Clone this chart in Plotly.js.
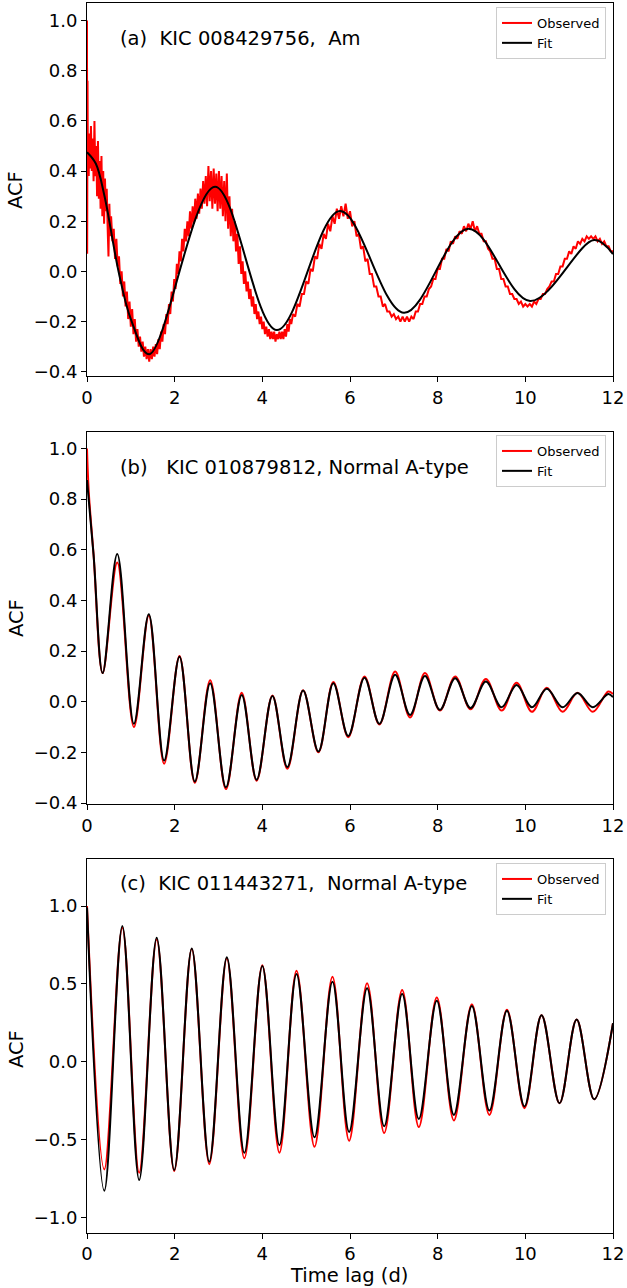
<!DOCTYPE html>
<html>
<head>
<meta charset="utf-8">
<script src="https://cdn.plot.ly/plotly-3.0.1.min.js"></script>
<style>html,body{margin:0;padding:0;background:#fff;}#chart{width:627px;height:1288px;}</style>
</head>
<body>
<div id="chart"></div>
<script>
// ---------- Data ----------
const xTicks = [0, 2, 4, 6, 8, 10, 12];
const panelLabels = [
  "(a)\u00A0\u00A0KIC 008429756,\u00A0\u00A0Am",
  "(b)\u00A0\u00A0\u00A0KIC 010879812, Normal A-type",
  "(c)\u00A0\u00A0KIC 011443271,\u00A0\u00A0Normal A-type"
];
const seriesNames = ["Observed", "Fit"];

// Panel (a): observed (noisy) ACF
const obsA_x = [0,0.004,0.012,0.02,0.03,0.04,0.05,0.07,0.09,0.11,0.13,0.15,0.17,0.19,0.21,0.23,0.25,0.27,0.29,0.31,0.33,0.35,0.37,0.39,0.41,0.43,0.45,0.47,0.49,0.51,0.53,0.55,0.58,0.61,0.64,0.67,0.70,0.73,0.76,0.79,0.82,0.85,0.88,0.91,0.94,0.97,1.00,1.03,1.06,1.09,1.12,1.15,1.18,1.21,1.24,1.27,1.30,1.33,1.36,1.39,1.42,1.45,1.48,1.51,1.54,
1.57,1.60,1.63,1.66,1.69,1.72,1.75,1.78,1.81,1.84,1.87,1.90,1.93,1.96,1.99,2.02,2.05,2.08,2.11,2.14,2.17,2.20,2.23,2.26,2.29,2.32,2.35,2.38,2.41,2.44,2.47,2.50,2.53,2.56,2.59,2.62,2.65,2.68,2.71,2.74,2.77,2.80,2.83,2.86,2.89,2.92,2.95,2.98,3.01,3.04,3.07,3.10,3.13,3.16,3.19,3.22,3.25,3.28,3.31,3.34,3.37,3.40,3.43,3.46,3.49,3.52,3.55,3.58,
3.61,3.64,3.67,3.70,3.73,3.76,3.79,3.82,3.85,3.88,3.91,3.94,3.97,4.00,4.03,4.06,4.09,4.12,4.15,4.18,4.21,4.24,4.27,4.30,4.33,4.36,4.39,4.42,4.45,4.48,4.51,4.54,4.57,4.60,4.63,4.66,
4.70,4.75,4.80,4.85,4.90,4.95,5.00,5.05,5.10,5.15,5.20,5.25,5.30,5.35,5.40,5.45,5.50,5.55,5.60,5.65,5.70,5.75,5.80,5.85,5.90,5.95,6.00,6.05,6.10,6.15,6.20,6.25,6.30,6.35,6.40,6.45,6.50,6.55,6.60,6.65,6.70,6.75,6.80,6.85,6.90,6.95,7.00,7.05,7.10,7.15,7.20,7.25,7.30,7.35,7.40,7.45,7.50,7.55,
7.60,7.65,7.70,7.75,7.80,7.85,7.90,7.95,8.00,8.05,8.10,8.15,8.20,8.25,8.30,8.35,8.40,8.45,8.50,8.55,8.60,8.65,8.70,8.75,8.80,8.85,8.90,8.95,9.00,9.05,9.10,9.15,9.20,9.25,9.30,9.35,9.40,9.45,9.50,9.55,9.60,9.65,9.70,9.75,9.80,9.85,9.90,9.95,10.00,10.05,10.10,10.15,10.20,10.25,10.30,10.35,10.40,10.45,10.50,10.55,10.60,10.65,10.70,10.75,10.80,10.85,10.90,10.95,11.00,11.05,11.10,11.15,11.20,11.25,11.30,11.35,11.40,11.45,11.50,11.55,11.60,11.65,11.70,11.75,11.80,11.85,11.90,11.95,12.00];
const obsA_y = [1.00,0.07,0.76,0.40,0.52,0.38,0.55,0.41,0.58,0.40,0.53,0.36,0.60,0.38,0.50,0.30,0.52,0.29,0.44,0.25,0.46,0.22,0.40,0.19,0.37,0.24,0.33,0.18,0.06,0.27,0.14,0.22,0.12,0.17,0.05,0.13,0.02,0.06,-0.05,0.00,-0.10,-0.04,-0.14,-0.08,-0.19,-0.12,-0.22,-0.15,-0.25,-0.19,-0.28,-0.23,-0.30,-0.26,-0.32,-0.28,-0.34,-0.30,-0.35,-0.31,-0.36,-0.31,-0.35,-0.30,-0.34,
-0.29,-0.33,-0.27,-0.31,-0.24,-0.28,-0.21,-0.25,-0.17,-0.21,-0.13,-0.17,-0.08,-0.12,-0.03,-0.07,0.03,-0.01,0.08,0.04,0.13,0.08,0.17,0.12,0.20,0.14,0.24,0.17,0.26,0.19,0.29,0.21,0.31,0.23,0.33,0.25,0.36,0.27,0.38,0.26,0.42,0.28,0.40,0.25,0.41,0.27,0.39,0.24,0.40,0.25,0.38,0.22,0.36,0.20,0.39,0.17,0.30,0.14,0.25,0.12,0.20,0.08,0.15,0.03,0.10,-0.01,0.04,-0.05,
0.00,-0.08,-0.04,-0.11,-0.07,-0.14,-0.10,-0.17,-0.13,-0.19,-0.16,-0.21,-0.18,-0.23,-0.20,-0.25,-0.22,-0.26,-0.23,-0.27,-0.24,-0.27,-0.24,-0.28,-0.25,-0.27,-0.24,-0.27,-0.24,-0.27,-0.23,-0.26,-0.21,-0.24,-0.19,-0.21,
-0.17,-0.18,-0.13,-0.14,-0.09,-0.09,-0.04,-0.05,0.01,0.00,0.06,0.05,0.11,0.09,0.15,0.13,0.19,0.16,0.22,0.19,0.25,0.21,0.26,0.22,0.27,0.21,0.24,0.18,0.20,0.14,0.15,0.09,0.10,0.04,0.05,-0.01,-0.01,-0.06,-0.06,-0.10,-0.10,-0.14,-0.13,-0.16,-0.16,-0.18,-0.17,-0.19,-0.18,-0.20,-0.18,-0.20,-0.18,-0.20,-0.18,-0.19,-0.16,-0.16,
-0.13,-0.13,-0.10,-0.10,-0.07,-0.06,-0.03,-0.03,0.01,0.01,0.05,0.05,0.09,0.08,0.12,0.11,0.14,0.13,0.16,0.15,0.18,0.16,0.19,0.17,0.20,0.16,0.18,0.15,0.15,0.12,0.12,0.09,0.08,0.05,0.05,0.01,0.01,-0.03,-0.03,-0.06,-0.06,-0.09,-0.09,-0.11,-0.11,-0.13,-0.12,-0.14,-0.13,-0.14,-0.13,-0.14,-0.12,-0.13,-0.11,-0.11,-0.09,-0.09,-0.07,-0.06,-0.04,-0.04,-0.01,-0.01,0.02,0.02,0.05,0.05,0.08,0.07,0.10,0.09,0.12,0.11,0.13,0.12,0.14,0.13,0.14,0.13,0.14,0.12,0.13,0.11,0.12,0.10,0.10,0.08,0.08];
// Panel (a): fit
const fitA_x = [0, 0.2, 0.4, 0.72, 1.0, 1.42, 2.92, 4.33, 5.77, 7.23, 8.70, 10.11, 11.57, 12.0];
const fitA_y = [0.475, 0.43, 0.30, 0.0, -0.19, -0.33, 0.338, -0.234, 0.241, -0.165, 0.170, -0.118, 0.125, 0.069];

// Panel (b)
const obsB_x = [0, 0.04, 0.15, 0.357, 0.69, 1.07, 1.41, 1.76, 2.11, 2.46, 2.81, 3.17, 3.53, 3.87, 4.23, 4.57, 4.93, 5.28, 5.62, 5.96, 6.33, 6.67, 7.03, 7.37, 7.71, 8.05, 8.40, 8.75, 9.10, 9.46, 9.80, 10.15, 10.49, 10.85, 11.19, 11.54, 11.89, 12.0];
const obsB_y = [1.0, 0.83, 0.58, 0.113, 0.55, -0.10, 0.34, -0.245, 0.18, -0.32, 0.085, -0.345, 0.035, -0.312, 0.025, -0.265, 0.045, -0.20, 0.078, -0.14, 0.10, -0.09, 0.119, -0.062, 0.113, -0.035, 0.10, -0.03, 0.09, -0.035, 0.075, -0.04, 0.055, -0.04, 0.035, -0.04, 0.04, 0.03];
const fitB_x = [0, 0.15, 0.357, 0.69, 1.07, 1.41, 1.76, 2.11, 2.46, 2.81, 3.17, 3.53, 3.87, 4.23, 4.57, 4.93, 5.28, 5.62, 5.96, 6.33, 6.67, 7.03, 7.37, 7.71, 8.05, 8.40, 8.75, 9.10, 9.46, 9.80, 10.15, 10.49, 10.85, 11.19, 11.54, 11.89, 12.0];
const fitB_y = [0.875, 0.58, 0.113, 0.583, -0.087, 0.345, -0.232, 0.178, -0.315, 0.073, -0.338, 0.027, -0.308, 0.023, -0.258, 0.044, -0.197, 0.073, -0.135, 0.095, -0.087, 0.106, -0.052, 0.102, -0.032, 0.093, -0.025, 0.080, -0.022, 0.066, -0.022, 0.051, -0.022, 0.034, -0.022, 0.03, 0.018];

// Panel (c)
const lagC = [0, 0.395, 0.806, 1.19, 1.59, 1.99, 2.39, 2.79, 3.19, 3.59, 4.0, 4.39, 4.78, 5.19, 5.60, 5.98, 6.39, 6.78, 7.19, 7.57, 7.98, 8.37, 8.78, 9.18, 9.58, 9.98, 10.37, 10.78, 11.17, 11.57, 12.0];
const obsC_y = [1.0, -0.69, 0.86, -0.711, 0.785, -0.70, 0.725, -0.656, 0.665, -0.619, 0.62, -0.583, 0.585, -0.545, 0.546, -0.506, 0.504, -0.456, 0.461, -0.418, 0.414, -0.376, 0.37, -0.340, 0.335, -0.297, 0.30, -0.265, 0.272, -0.24, 0.248];
const fitC_y = [0.99, -0.827, 0.872, -0.758, 0.797, -0.694, 0.728, -0.641, 0.671, -0.583, 0.615, -0.534, 0.564, -0.484, 0.514, -0.449, 0.472, -0.413, 0.435, -0.366, 0.393, -0.340, 0.358, -0.312, 0.328, -0.286, 0.300, -0.265, 0.272, -0.240, 0.248];

// ---------- Figure ----------
const FONT = "DejaVu Sans, sans-serif";
const RED = "#ff0000", BLACK = "#000000";
const H = 1288;
function py(px) { return 1 - px / H; }

function obsTrace(x, y, xa, ya, leg, spline) {
  return {x: x, y: y, xaxis: xa, yaxis: ya, type: "scatter", mode: "lines", name: seriesNames[0],
    legend: leg, line: {color: RED, width: 2, shape: spline ? "spline" : "linear", smoothing: 1}, hoverinfo: "skip"};
}
function fitTrace(x, y, xa, ya, leg) {
  return {x: x, y: y, xaxis: xa, yaxis: ya, type: "scatter", mode: "lines", name: seriesNames[1],
    legend: leg, line: {color: BLACK, width: 2, shape: "spline", smoothing: 1}, hoverinfo: "skip"};
}

const data = [
  obsTrace(obsA_x, obsA_y, "x", "y", "legend", false),
  fitTrace(fitA_x, fitA_y, "x", "y", "legend"),
  obsTrace(obsB_x, obsB_y, "x2", "y2", "legend2", true),
  fitTrace(fitB_x, fitB_y, "x2", "y2", "legend2"),
  obsTrace(lagC, obsC_y, "x3", "y3", "legend3", true),
  fitTrace(lagC, fitC_y, "x3", "y3", "legend3")
];

function xAxis(anchor) {
  return {anchor: anchor, domain: [0, 1], range: [0, 12], tickvals: xTicks, ticktext: xTicks.map(String),
    ticks: "outside", ticklen: 5, tickwidth: 1, tickcolor: "#000", showline: true, linecolor: "#000",
    linewidth: 1, mirror: true, showgrid: false, zeroline: false, automargin: false,
    tickfont: {family: FONT, size: 18, color: "#000"}};
}
function yAxis(anchor, dom, range, dtick) {
  return {anchor: anchor, domain: dom, range: range, dtick: dtick, tick0: 0, tickformat: ".1f",
    ticks: "outside", ticklen: 5, tickwidth: 1, tickcolor: "#000", showline: true, linecolor: "#000",
    linewidth: 1, mirror: true, showgrid: false, zeroline: false, automargin: false,
    tickfont: {family: FONT, size: 18, color: "#000"}};
}
function legendAt(topPx) {
  return {x: 0.9867, xanchor: "right", y: py(topPx), yanchor: "top", bgcolor: "rgba(255,255,255,0.8)",
    bordercolor: "#cccccc", borderwidth: 1, font: {family: FONT, size: 13, color: "#000"},
    tracegroupgap: 0};
}

const annotations = [
  {text: panelLabels[0], xref: "paper", yref: "paper", x: 0.0589, y: py(39), xanchor: "left", yanchor: "middle", showarrow: false, font: {family: FONT, size: 19.5, color: "#000"}},
  {text: panelLabels[1], xref: "paper", yref: "paper", x: 0.0589, y: py(468), xanchor: "left", yanchor: "middle", showarrow: false, font: {family: FONT, size: 19.5, color: "#000"}},
  {text: panelLabels[2], xref: "paper", yref: "paper", x: 0.0589, y: py(883), xanchor: "left", yanchor: "middle", showarrow: false, font: {family: FONT, size: 19.5, color: "#000"}},
  {text: "ACF", xref: "paper", yref: "paper", x: (16 - 87) / 526, y: py(190), xanchor: "center", yanchor: "middle", textangle: -90, showarrow: false, font: {family: FONT, size: 19.5, color: "#000"}},
  {text: "ACF", xref: "paper", yref: "paper", x: (16 - 87) / 526, y: py(618), xanchor: "center", yanchor: "middle", textangle: -90, showarrow: false, font: {family: FONT, size: 19.5, color: "#000"}},
  {text: "ACF", xref: "paper", yref: "paper", x: (16 - 87) / 526, y: py(1049), xanchor: "center", yanchor: "middle", textangle: -90, showarrow: false, font: {family: FONT, size: 19.5, color: "#000"}},
  {text: "Time lag (d)", xref: "paper", yref: "paper", x: 0.499, y: py(1275), xanchor: "center", yanchor: "middle", showarrow: false, font: {family: FONT, size: 19.5, color: "#000"}}
];

const layout = {
  width: 627, height: 1288,
  margin: {l: 87, r: 14, t: 0, b: 0, pad: 0},
  paper_bgcolor: "#fff", plot_bgcolor: "#fff",
  font: {family: FONT, color: "#000"},
  showlegend: true,
  xaxis: xAxis("y"), xaxis2: xAxis("y2"), xaxis3: xAxis("y3"),
  yaxis: yAxis("x", [py(376), py(3.3)], [-0.417, 1.069], 0.2),
  yaxis2: yAxis("x2", [py(804.3), py(431.7)], [-0.405, 1.066], 0.2),
  yaxis3: yAxis("x3", [py(1232.7), py(859.3)], [-1.096, 1.30], 0.5),
  legend: legendAt(7), legend2: legendAt(435), legend3: legendAt(863),
  annotations: annotations
};

Plotly.newPlot("chart", data, layout, {staticPlot: true, displayModeBar: false});
</script>
</body>
</html>
